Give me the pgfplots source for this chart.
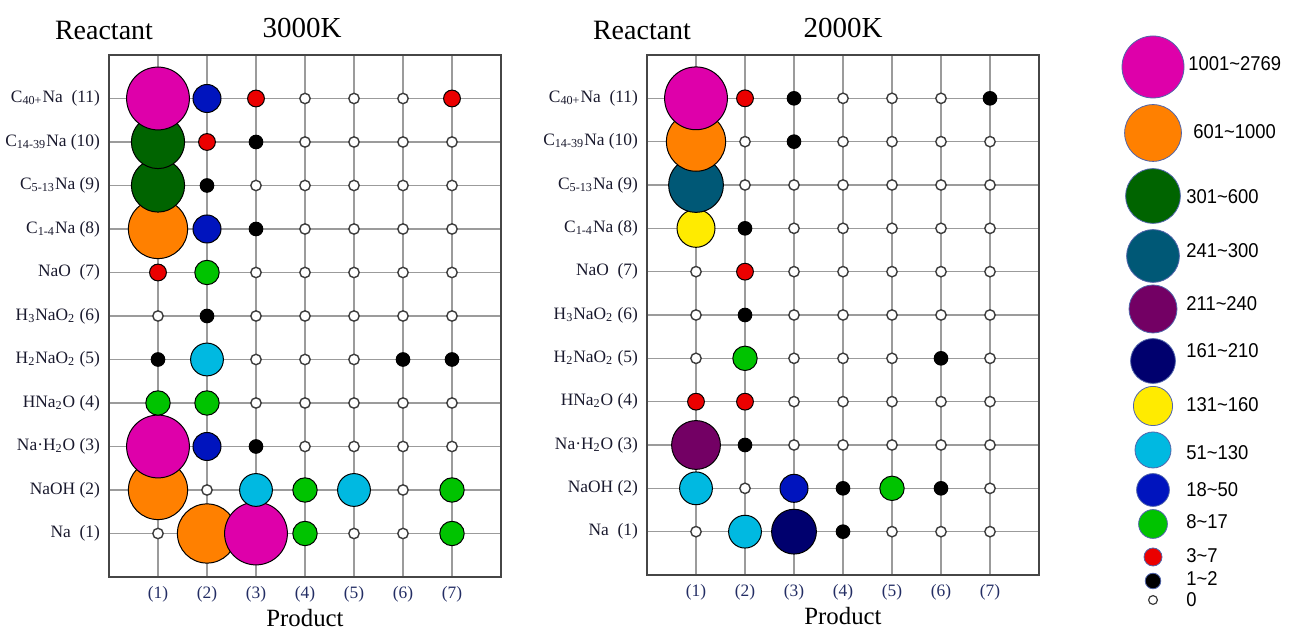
\documentclass[border=0pt]{standalone}
\usepackage{pgfplots}
\pgfplotsset{compat=1.18}
\usepackage{pgfplotstable}
\usepackage{fontspec}
\setmainfont{Liberation Serif}
\newfontfamily\legfont[FakeStretch=0.92]{Liberation Sans}

\definecolor{cM}{RGB}{222,0,170}
\definecolor{cO}{RGB}{255,128,0}
\definecolor{cDG}{RGB}{0,100,0}
\definecolor{cT}{RGB}{0,88,118}
\definecolor{cP}{RGB}{115,0,100}
\definecolor{cN}{RGB}{0,0,110}
\definecolor{cY}{RGB}{255,235,0}
\definecolor{cC}{RGB}{0,185,225}
\definecolor{cB}{RGB}{0,20,190}
\definecolor{cLG}{RGB}{0,195,0}
\definecolor{cR}{RGB}{235,0,0}
\definecolor{cK}{RGB}{0,0,0}
\definecolor{ogray}{RGB}{60,60,60}
\definecolor{gridgray}{RGB}{155,155,155}
\definecolor{framegray}{RGB}{70,70,70}
\definecolor{legline}{RGB}{80,100,170}
\definecolor{xtl}{RGB}{35,45,100}
\definecolor{ytl}{RGB}{25,25,45}

% 3000K: x = product, y = reactant, c = count class
\pgfplotstableread{
x y c
1 1 Z
2 1 O
3 1 M
4 1 LG
5 1 Z
6 1 Z
7 1 LG
1 2 O
2 2 Z
3 2 C
4 2 LG
5 2 C
6 2 Z
7 2 LG
1 3 M
2 3 B
3 3 K
4 3 Z
5 3 Z
6 3 Z
7 3 Z
1 4 LG
2 4 LG
3 4 Z
4 4 Z
5 4 Z
6 4 Z
7 4 Z
1 5 K
2 5 C
3 5 Z
4 5 Z
5 5 Z
6 5 K
7 5 K
1 6 Z
2 6 K
3 6 Z
4 6 Z
5 6 Z
6 6 Z
7 6 Z
1 7 R
2 7 LG
3 7 Z
4 7 Z
5 7 Z
6 7 Z
7 7 Z
1 8 O
2 8 B
3 8 K
4 8 Z
5 8 Z
6 8 Z
7 8 Z
1 9 DG
2 9 K
3 9 Z
4 9 Z
5 9 Z
6 9 Z
7 9 Z
1 10 DG
2 10 R
3 10 K
4 10 Z
5 10 Z
6 10 Z
7 10 Z
1 11 M
2 11 B
3 11 R
4 11 Z
5 11 Z
6 11 Z
7 11 R
}\hotdata

% 2000K
\pgfplotstableread{
x y c
1 1 Z
2 1 C
3 1 N
4 1 K
5 1 Z
6 1 Z
7 1 Z
1 2 C
2 2 Z
3 2 B
4 2 K
5 2 LG
6 2 K
7 2 Z
1 3 P
2 3 K
3 3 Z
4 3 Z
5 3 Z
6 3 Z
7 3 Z
1 4 R
2 4 R
3 4 Z
4 4 Z
5 4 Z
6 4 Z
7 4 Z
1 5 Z
2 5 LG
3 5 Z
4 5 Z
5 5 Z
6 5 K
7 5 Z
1 6 Z
2 6 K
3 6 Z
4 6 Z
5 6 Z
6 6 Z
7 6 Z
1 7 Z
2 7 R
3 7 Z
4 7 Z
5 7 Z
6 7 Z
7 7 Z
1 8 Y
2 8 K
3 8 Z
4 8 Z
5 8 Z
6 8 Z
7 8 Z
1 9 T
2 9 Z
3 9 Z
4 9 Z
5 9 Z
6 9 Z
7 9 Z
1 10 O
2 10 Z
3 10 K
4 10 Z
5 10 Z
6 10 Z
7 10 Z
1 11 M
2 11 R
3 11 K
4 11 Z
5 11 Z
6 11 Z
7 11 K
}\colddata

% legend
\pgfplotstableread{
x y c
0.5 -67 M
0.5 -133 O
0.5 -196 DG
0.5 -256 T
0.5 -309 P
0.5 -361 N
0.5 -406 Y
0.5 -450 C
0.5 -490 B
0.5 -524 LG
0.5 -557 R
0.5 -581 K
0.5 -600 Z
}\legdata

\pgfplotsset{
  bubbles/.style={only marks, scatter, scatter src=explicit symbolic,
    scatter/classes={
      M={mark=*,mark size=15.7pt,draw=black,fill=cM,line width=0.5pt},
      O={mark=*,mark size=14.8pt,draw=black,fill=cO,line width=0.5pt},
      DG={mark=*,mark size=13.3pt,draw=black,fill=cDG,line width=0.5pt},
      T={mark=*,mark size=13.7pt,draw=black,fill=cT,line width=0.5pt},
      P={mark=*,mark size=12.2pt,draw=black,fill=cP,line width=0.5pt},
      N={mark=*,mark size=11.2pt,draw=black,fill=cN,line width=0.5pt},
      Y={mark=*,mark size=9.5pt,draw=black,fill=cY,line width=0.5pt},
      C={mark=*,mark size=8.2pt,draw=black,fill=cC,line width=0.5pt},
      B={mark=*,mark size=7pt,draw=black,fill=cB,line width=0.5pt},
      LG={mark=*,mark size=6.1pt,draw=black,fill=cLG,line width=0.5pt},
      R={mark=*,mark size=4.2pt,draw=black,fill=cR,line width=0.5pt},
      K={mark=*,mark size=3.4pt,draw=black,fill=cK,line width=0.5pt},
      Z={mark=*,mark size=2.6pt,draw=ogray,fill=white,line width=0.7pt}
    }},
  legbubbles/.style={only marks, scatter, scatter src=explicit symbolic,
    scatter/classes={
      M={mark=*,mark size=15.5pt,draw=legline,fill=cM,line width=0.4pt},
      O={mark=*,mark size=14.2pt,draw=legline,fill=cO,line width=0.4pt},
      DG={mark=*,mark size=13.7pt,draw=legline,fill=cDG,line width=0.4pt},
      T={mark=*,mark size=13.2pt,draw=legline,fill=cT,line width=0.4pt},
      P={mark=*,mark size=12pt,draw=legline,fill=cP,line width=0.4pt},
      N={mark=*,mark size=11.2pt,draw=legline,fill=cN,line width=0.4pt},
      Y={mark=*,mark size=9.8pt,draw=legline,fill=cY,line width=0.4pt},
      C={mark=*,mark size=9pt,draw=legline,fill=cC,line width=0.4pt},
      B={mark=*,mark size=8.2pt,draw=legline,fill=cB,line width=0.4pt},
      LG={mark=*,mark size=7.2pt,draw=legline,fill=cLG,line width=0.4pt},
      R={mark=*,mark size=4.5pt,draw=legline,fill=cR,line width=0.4pt},
      K={mark=*,mark size=3.9pt,draw=legline,fill=cK,line width=0.4pt},
      Z={mark=*,mark size=2.2pt,draw=ogray,fill=white,line width=0.6pt}
    }},
  gridaxis/.style={
    scale only axis, width=196pt,
    anchor=south west,
    xmin=0, xmax=8, ymin=0, ymax=12,
    xtick={1,...,7}, ytick={1,...,11},
    xticklabels={(1),(2),(3),(4),(5),(6),(7)},
    yticklabels={Na\ \ (1), NaOH (2), Na·H\textsubscript{2}O (3), HNa\textsubscript{2}O (4),
      H\textsubscript{2}NaO\textsubscript{2} (5), H\textsubscript{3}NaO\textsubscript{2} (6),
      NaO\ \ (7), C\textsubscript{1-4}Na (8), C\textsubscript{5-13}Na (9),
      C\textsubscript{14-39}Na (10), C\textsubscript{40+}Na\ \ (11)},
    grid=major,
    major grid style={draw=gridgray, line width=0.75pt},
    axis line style={draw=framegray, line width=1pt},
    major tick length=0pt,
    xticklabel style={font=\fontsize{8.7}{10}\selectfont, text=xtl, yshift=-1pt},
    yticklabel style={font=\fontsize{8.7}{10}\selectfont, text=ytl, xshift=-1pt},
    xlabel={Product},
    xlabel style={font=\fontsize{12.4}{14}\selectfont, at={(rel axis cs:0.5,0)}, anchor=center, yshift=-20.5pt},
    clip=false,
  }
}

\begin{document}
\begin{tikzpicture}
\useasboundingbox (0,0) rectangle (644.5pt,315pt);

\begin{axis}[gridaxis, height=261pt, at={(54.5pt,26.5pt)}]
\addplot[bubbles] table[x=x, y=y, meta=c] {\hotdata};
\end{axis}

\begin{axis}[gridaxis, height=260pt, at={(323.5pt,27.5pt)}]
\addplot[bubbles] table[x=x, y=y, meta=c] {\colddata};
\end{axis}

\node[font=\fontsize{14}{16}\selectfont] at (52pt,300pt) {Reactant};
\node[font=\fontsize{14.5}{16}\selectfont] at (151pt,301pt) {3000K};
\node[font=\fontsize{14}{16}\selectfont] at (321pt,300pt) {Reactant};
\node[font=\fontsize{14.5}{16}\selectfont] at (421.5pt,301pt) {2000K};

\begin{axis}[at={(560pt,0pt)}, anchor=south west, scale only axis,
  width=33pt, height=315pt, xmin=0, xmax=1, ymin=-630, ymax=0,
  hide axis, clip=false]
\addplot[legbubbles] table[x=x, y=y, meta=c] {\legdata};
\begin{scope}[every node/.style={anchor=west, inner sep=0pt, font=\legfont\fontsize{10}{12}\selectfont}]
\node[xshift=1pt] at (axis cs:1,-64) {1001\textasciitilde 2769};
\node[xshift=3.5pt] at (axis cs:1,-132) {601\textasciitilde 1000};
\node at (axis cs:1,-197) {301\textasciitilde 600};
\node at (axis cs:1,-251) {241\textasciitilde 300};
\node at (axis cs:1,-304) {211\textasciitilde 240};
\node at (axis cs:1,-351) {161\textasciitilde 210};
\node at (axis cs:1,-405) {131\textasciitilde 160};
\node at (axis cs:1,-453) {51\textasciitilde 130};
\node at (axis cs:1,-490) {18\textasciitilde 50};
\node at (axis cs:1,-522) {8\textasciitilde 17};
\node at (axis cs:1,-556) {3\textasciitilde 7};
\node at (axis cs:1,-579) {1\textasciitilde 2};
\node at (axis cs:1,-600) {0};
\end{scope}
\end{axis}
\end{tikzpicture}
\end{document}
